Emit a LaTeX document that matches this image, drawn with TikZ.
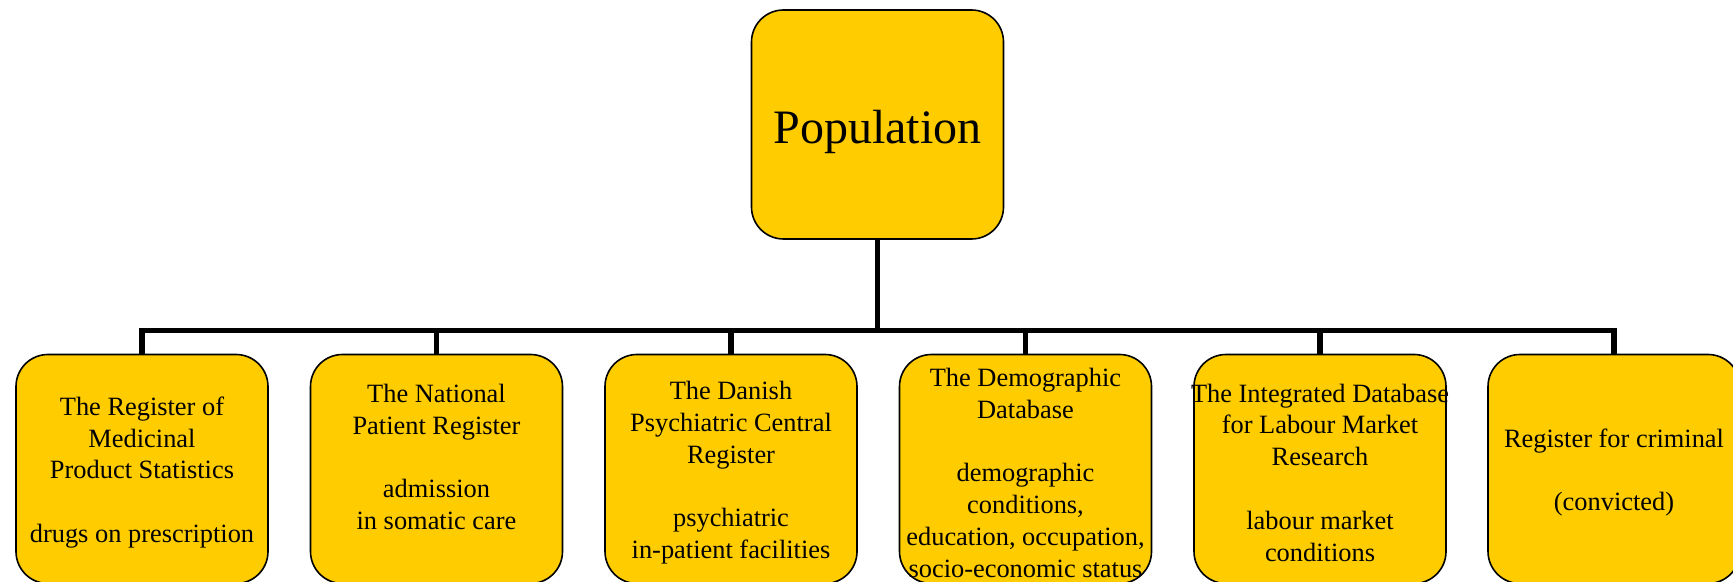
\documentclass[tikz,border=0pt]{standalone}
\usepackage{fontspec}
\setmainfont{Liberation Serif}
\usepackage{xcolor}
\usetikzlibrary{calc}
\definecolor{regyellow}{HTML}{FFCC00}
\newcommand{\wideline}[1]{\makebox[110pt]{#1}}
\newcommand{\topstrut}{\rule{0pt}{12.8pt}}

\begin{document}
\begin{tikzpicture}[x=0.5pt,y=-0.5pt,
        yellowbox/.style={draw=black, line width=0.8pt, fill=regyellow, rounded corners=16pt,
            minimum width=126pt, minimum height=114.5pt, inner sep=0pt, align=center},
        regbox/.style={yellowbox, font=\fontsize{13.2}{15.9}\selectfont},
        popbox/.style={yellowbox, font=\fontsize{24}{28.8}\selectfont,
            execute at begin node={\rule{0pt}{24.2pt}}},
        link/.style={line width=2.8pt}]
        \useasboundingbox (0,0) rectangle (1733,582);
        \node[popbox] (pop) at (877.5,124.5) {Population};
        \coordinate (bar) at (0,330.5);
        \node[regbox] (r1) at (142,469) {\topstrut The Register of\\ Medicinal\\ Product Statistics\\ \mbox{}\\ drugs on prescription};
        \node[regbox] (r2) at (436.5,469) {\topstrut The National\\ Patient Register\\ \mbox{}\\ admission\\ in somatic care\\ \mbox{}};
        \node[regbox] (r3) at (731,469) {\topstrut The Danish\\ Psychiatric Central\\ Register\\ \mbox{}\\ psychiatric\\ in-patient facilities};
        \node[regbox] (r4) at (1025.5,469) {\topstrut The Demographic\\ Database\\ \mbox{}\\ demographic\\ conditions,\\ \wideline{education, occupation,}\\ \wideline{socio-economic status}};
        \node[regbox] (r5) at (1320,469) {\wideline{\topstrut The Integrated Database}\\ for Labour Market\\ Research\\ \mbox{}\\ labour market\\ conditions};
        \node[regbox] (r6) at (1614,469) {\topstrut Register for criminal\\ \mbox{}\\ (convicted)};
        \foreach \i in {1,...,6} {
            \draw[link] (pop.south) -- (pop.south |- bar) -| (r\i.north);
        }
    \end{tikzpicture}
\end{document}
